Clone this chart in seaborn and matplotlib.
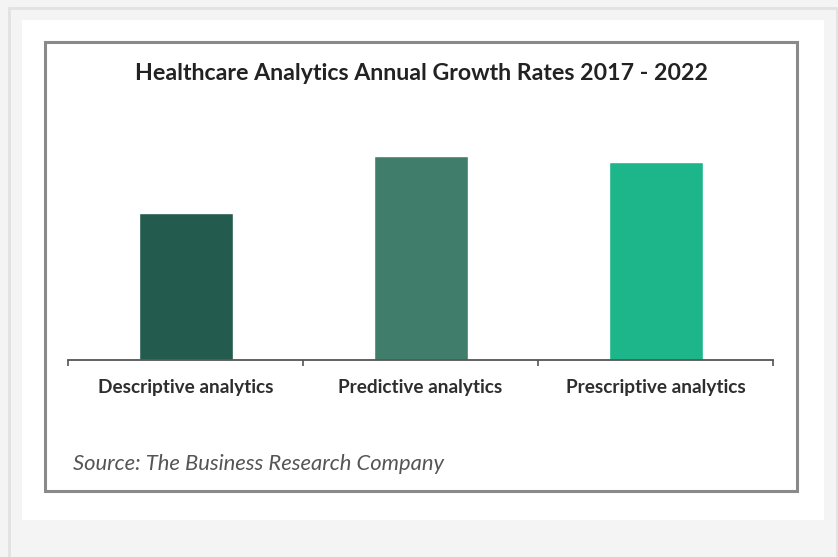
import matplotlib
matplotlib.use("Agg")
import matplotlib.pyplot as plt
import seaborn as sns
import pandas as pd
from matplotlib.patches import Rectangle

categories = ["Descriptive analytics", "Predictive analytics", "Prescriptive analytics"]
growth = [14.7, 20.4, 19.8]
colors = ["#235c4e", "#407d6a", "#1db68a"]
title = "Healthcare Analytics Annual Growth Rates 2017 - 2022"
source = "Source: The Business Research Company"

df = pd.DataFrame({"cat": categories, "val": growth})

sns.set_theme(style="white")
plt.rcParams["font.family"] = ["Lato", "DejaVu Sans"]

W, H = 838, 557
fig = plt.figure(figsize=(W / 100, H / 100), dpi=100)
fig.patch.set_facecolor("#f4f4f4")

def px_rect(x0, y0, x1, y1, **kw):
    return Rectangle((x0 / W, 1 - y1 / H), (x1 - x0) / W, (y1 - y0) / H,
                     transform=fig.transFigure, zorder=-5, **kw)

# outer thin gray border lines
fig.patches.append(px_rect(9, 8, 837, 560, facecolor="none", edgecolor="#e2e2e2", linewidth=2))
# white panel
fig.patches.append(px_rect(22, 20, 824, 520, facecolor="white", edgecolor="none"))
# chart frame
fig.patches.append(px_rect(45, 42, 797, 491, facecolor="white", edgecolor="#8a8a8a", linewidth=2.2))

ax = fig.add_axes([68 / W, (H - 360) / H, 705 / W, 240 / H])
ax.set_zorder(5)
ax.set_facecolor("none")
sns.barplot(data=df, x="cat", y="val", hue="cat", palette=colors, width=0.4,
            legend=False, ax=ax, saturation=1)
ax.set_xlim(-0.5, 2.5)
ax.set_ylim(0, 24)
ax.set_xlabel("")
ax.set_ylabel("")
ax.set_yticks([])
for s in ["top", "right", "left"]:
    ax.spines[s].set_visible(False)
ax.spines["bottom"].set_color("#555555")
ax.spines["bottom"].set_linewidth(1.3)
ax.set_xticks([0, 1, 2])
ax.set_xticklabels(categories, fontsize=13.7, fontweight="bold", color="#2e2e2e")
ax.set_xticks([-0.5, 0.5, 1.5, 2.5], minor=True)
ax.tick_params(axis="x", which="major", length=0, pad=14)
ax.tick_params(axis="x", which="minor", length=4, width=1.2, color="#555555", direction="out", bottom=True)

fig.text(421 / W, 1 - 73 / H, title, ha="center", va="center", fontsize=16.7,
         fontweight="bold", color="#222222", zorder=6)
fig.text(73 / W, 1 - 464 / H, source, ha="left", va="center", fontsize=15.8,
         style="italic", color="#555555", zorder=6)

fig.savefig("out.png", dpi=100, facecolor=fig.get_facecolor())
